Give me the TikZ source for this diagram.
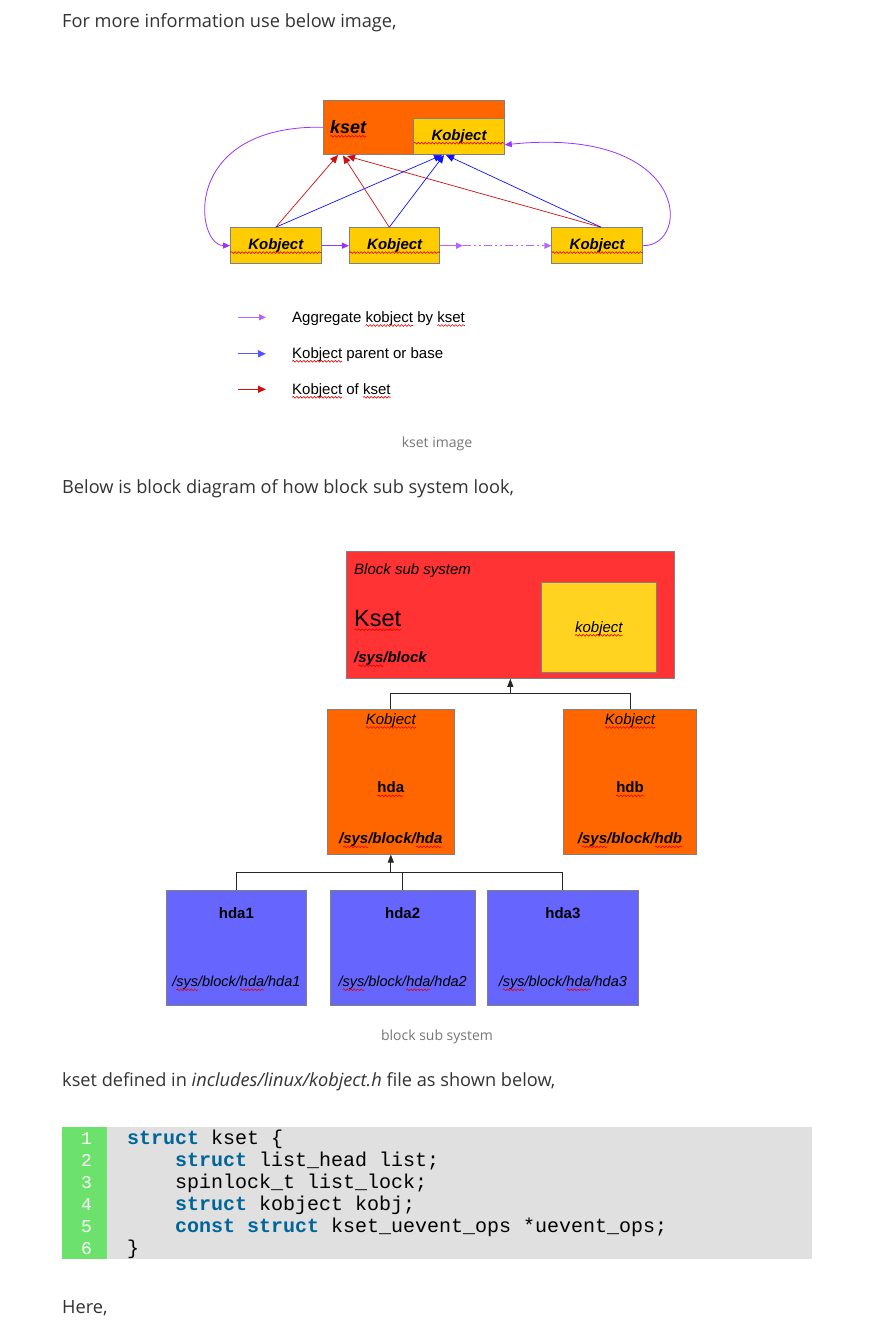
\documentclass[tikz,border=0pt]{standalone}
\usepackage{fontspec}
\setmainfont{Open Sans}
\newfontfamily\diafont{Liberation Sans}
\newfontfamily\codefont{Liberation Mono}
\usetikzlibrary{positioning, calc, arrows.meta, decorations.pathmorphing}

\definecolor{ksetorange}{HTML}{FF6600}
\definecolor{kobjyellow}{HTML}{FFCC00}
\definecolor{blkred}{HTML}{FF3333}
\definecolor{blkyellow}{HTML}{FFD320}
\definecolor{partblue}{HTML}{6666FF}
\definecolor{aggpurple}{HTML}{9933FF}
\definecolor{legpurple}{HTML}{B366FF}
\definecolor{parblue}{HTML}{1010FF}
\definecolor{legblue}{HTML}{5555FF}
\definecolor{ofred}{HTML}{D01010}
\definecolor{bodytext}{HTML}{333333}
\definecolor{captext}{HTML}{777777}
\definecolor{codebg}{HTML}{E0E0E0}
\definecolor{gutter}{HTML}{6CE26C}
\definecolor{keyword}{HTML}{006699}
\definecolor{boxline}{HTML}{808080}

% red spell-check squiggle under a word
\newcommand{\wavy}[1]{\tikz[baseline=(wv.base)]{\node[inner sep=0pt, outer sep=0pt] (wv) {#1};
  \draw[overlay, red!90!black, line width=0.6pt, decorate, decoration={snake, amplitude=0.9pt, segment length=3.5pt}]
    ([yshift=-3pt]wv.base west) -- ([yshift=-3pt]wv.base east);}}
\newcommand{\kw}[1]{\textcolor{keyword}{\bfseries #1}}

\begin{document}
\begin{tikzpicture}[x=1pt, y=-1pt,
  body/.style={font=\fontsize{18.2}{21}\selectfont, text=bodytext, inner sep=0pt, anchor=base west},
  caption/.style={font=\fontsize{14}{16}\selectfont, text=captext, inner sep=0pt, anchor=base},
  box/.style={draw=boxline, line width=1pt, inner sep=0pt},
  ksetbox/.style={box, fill=ksetorange},
  kobjbox/.style={box, fill=kobjyellow, minimum width=90.5pt, minimum height=36pt,
    font=\diafont\bfseries\itshape\fontsize{15}{18}\selectfont},
  agg/.style={draw=aggpurple, line width=0.8pt, -{Triangle[length=7pt, width=6pt]}},
  parent/.style={draw=parblue, line width=0.7pt, -{Triangle[length=8pt, width=7pt]}},
  member/.style={draw=ofred, line width=0.7pt, -{Triangle[length=8pt, width=7pt]}},
  legtext/.style={font=\diafont\fontsize{15}{18}\selectfont, inner sep=0pt, anchor=base west},
  dlabel/.style={font=\diafont\fontsize{15}{18}\selectfont, inner sep=0pt, anchor=base},
  tree/.style={draw=black!85, line width=1pt},
  treearrow/.style={tree, -{Triangle[length=8pt, width=6pt]}},
  lineno/.style={font=\codefont\fontsize{18}{20}\selectfont, text=white, inner sep=0pt, anchor=base},
  code/.style={font=\codefont\fontsize{20}{22}\selectfont, inner sep=0pt, anchor=base west}]

\fill[white] (0,0) rectangle (873,1339);
\useasboundingbox (0,0) rectangle (873,1339);

\node[body] (intro) at (62,27.7) {For more information use below image,};

% kset image
\node[ksetbox, minimum width=181pt, minimum height=54.3pt] (kset) at (413.8,127.2) {};
\node[font=\diafont\bfseries\itshape\fontsize{18}{20}\selectfont, inner sep=0pt, anchor=base west]
  (ksetlbl) at (330,133.3) {\wavy{kset}};
\node[kobjbox] (kobjtop) at (459,136.3) {\wavy{Kobject}};

\node[kobjbox] (k1) at (275.8,245.7) {\wavy{Kobject}};
\node[kobjbox] (k2) at (394.7,245.7) {\wavy{Kobject}};
\node[kobjbox] (k3) at (597.2,245.7) {\wavy{Kobject}};

\coordinate (r1) at (338,155);
\coordinate (r2) at (343,155.5);
\coordinate (r3) at (347,156);
\coordinate (b1) at (442,155);
\coordinate (b2) at (444,155);
\coordinate (b3) at (446,155);
\coordinate (dd) at (463,245.7);

\draw[member] (k1.north) -- (r1);
\draw[member] ([xshift=-5.4pt]k2.north) -- (r2);
\draw[member] ([xshift=3.8pt]k3.north) -- (r3);
\draw[parent] (k1.north) -- (b1);
\draw[parent] ([xshift=-5.4pt]k2.north) -- (b2);
\draw[parent] ([xshift=3.8pt]k3.north) -- (b3);

\draw[agg] (kset.west) .. controls (180,125) and (195,245) .. (k1.west);
\draw[agg] (k3.east) .. controls (692,246) and (690,126) .. ([yshift=-8.5pt]kobjtop.east);
\draw[agg] (k1.east) -- (k2.west);
\draw[agg, draw=legpurple, line width=1.4pt] (k2.east) -- (dd);
\draw[agg, draw=legpurple, line width=1.2pt, dash pattern=on 8pt off 3pt on 2pt off 3pt on 2pt off 3pt]
  (dd) -- (k3.west);

% legend
\coordinate (la1) at (238,317.3); \coordinate (lb1) at (266,317.3);
\coordinate (la2) at (238,353.8); \coordinate (lb2) at (266,353.8);
\coordinate (la3) at (238,389.3); \coordinate (lb3) at (266,389.3);
\draw[agg, draw=legpurple, line width=1.2pt] (la1) -- (lb1);
\draw[parent, draw=legblue, line width=1.2pt] (la2) -- (lb2);
\draw[member, line width=1.2pt] (la3) -- (lb3);
\node[legtext] (lt1) at (292,322.5) {Aggregate \wavy{kobject} by \wavy{kset}};
\node[legtext] (lt2) at (292,358.3) {\wavy{Kobject} parent or base};
\node[legtext] (lt3) at (292,394.3) {\wavy{Kobject} of \wavy{kset}};

\node[caption] (cap1) at (437,447) {kset image};

\node[body] (blkintro) at (62,493.3) {Below is block diagram of how block sub system look,};

% block sub system
\node[box, fill=blkred, minimum width=327.3pt, minimum height=127.3pt] (blk) at (510.35,614.65) {};
\node[box, fill=blkyellow, minimum width=114.3pt, minimum height=90pt] (blkobj) at (598.85,627.3) {};
\node[legtext, font=\diafont\itshape\fontsize{15}{18}\selectfont] (blkname) at (354,574.3) {Block sub system};
\node[legtext, font=\diafont\fontsize{23.5}{26}\selectfont] (ksetname) at (354,626.7) {\wavy{Kset}};
\node[legtext, font=\diafont\bfseries\itshape\fontsize{15}{18}\selectfont] (blkpath) at (354,662.7) {/\wavy{sys}/block};
\node[dlabel, font=\diafont\itshape\fontsize{15}{18}\selectfont] (blkobjlbl) at (598.85,632.3) {\wavy{kobject}};

\node[box, fill=ksetorange, minimum width=127pt, minimum height=145pt] (hda) at (390.8,781.5) {};
\node[box, fill=ksetorange, minimum width=133.4pt, minimum height=145pt] (hdb) at (630,781.5) {};
\foreach \d in {hda, hdb} {
  \node[dlabel, font=\diafont\itshape\fontsize{15}{18}\selectfont] (\d kobj) at ($(\d.north)+(0,16)$) {\wavy{Kobject}};
  \node[dlabel, font=\diafont\bfseries\fontsize{15}{18}\selectfont] (\d name) at ($(\d.north)+(0,84.3)$) {\wavy{\d}};
  \node[dlabel, font=\diafont\bfseries\itshape\fontsize{15}{18}\selectfont] (\d path) at ($(\d.north)+(0,135.3)$) {/\wavy{sys}/block/\wavy{\d}};
}

\coordinate (jt) at (510.35,693.3);
\draw[tree] (hda.north) |- (jt) -| (hdb.north);
\draw[treearrow] (jt) -- (blk.south);

\node[box, fill=partblue, minimum width=139.3pt, minimum height=115.4pt] (hda1) at (236.35,948) {};
\node[box, fill=partblue, minimum width=145.3pt, minimum height=115.4pt] (hda2) at (402.65,948) {};
\node[box, fill=partblue, minimum width=151.7pt, minimum height=115.4pt] (hda3) at (562.85,948) {};
\foreach \p in {hda1, hda2, hda3} {
  \node[dlabel, font=\diafont\bfseries\fontsize{15}{18}\selectfont] (\p name) at ($(\p.north)+(0,28.7)$) {\p};
  \node[dlabel, font=\diafont\itshape\fontsize{14.5}{17}\selectfont] (\p path) at ($(\p.north)+(0,97)$) {/\wavy{sys}/block/\wavy{hda}/\p};
}

\coordinate (jb) at (390.8,872.3);
\draw[tree] (hda1.north) |- (jb) -| (hda3.north);
\draw[tree] (hda2.north) -- (hda2.north |- jb);
\draw[treearrow] (jb) -- (hda.south);

\node[caption] (cap2) at (437,1040) {block sub system};

\node[body] (codeintro) at (62,1086.7) {kset defined in \textit{includes/linux/kobject.h} file as shown below,};

% kset struct listing
\node[fill=codebg, minimum width=750pt, minimum height=132pt, inner sep=0pt, anchor=north west] (listing) at (62,1127) {};
\node[fill=gutter, minimum width=45pt, minimum height=132pt, inner sep=0pt, anchor=north west] (gut) at (62,1127) {};
\foreach \i in {1,...,6}
  \node[lineno] (ln\i) at (86.5,{1144+22*(\i-1)}) {\i};
\node[code] (c1) at (127,1144) {\kw{struct} kset \{};
\node[code] (c2) at (175,1166) {\kw{struct} list\_head list;};
\node[code] (c3) at (175,1188) {spinlock\_t list\_lock;};
\node[code] (c4) at (175,1210) {\kw{struct} kobject kobj;};
\node[code] (c5) at (175,1232) {\kw{const} \kw{struct} kset\_uevent\_ops *uevent\_ops;};
\node[code] (c6) at (127,1254) {\}};

\node[body] (here) at (62,1313) {Here,};
\end{tikzpicture}
\end{document}
